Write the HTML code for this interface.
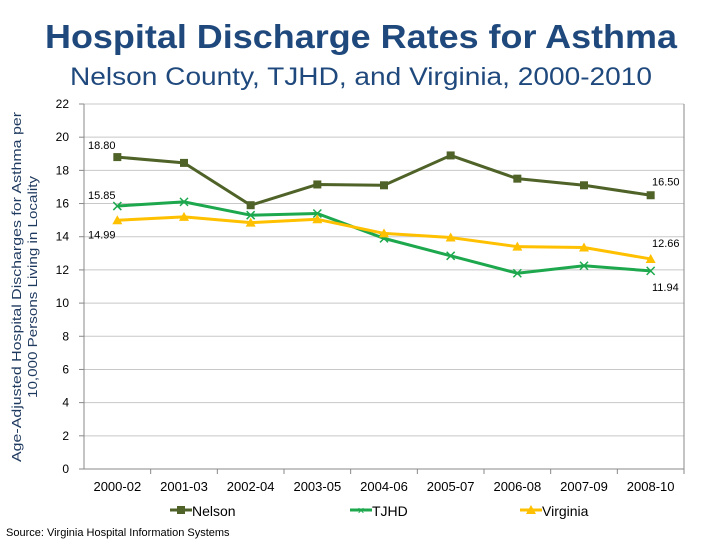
<!DOCTYPE html>
<html><head><meta charset="utf-8"><style>
body{margin:0;background:#fff;}
svg{display:block;font-family:"Liberation Sans",Arial,sans-serif;}
</style></head><body>
<svg width="720" height="540" viewBox="0 0 720 540">
<text x="361" y="48" text-anchor="middle" font-size="33" font-weight="bold" fill="#1f497d" textLength="632" lengthAdjust="spacingAndGlyphs">Hospital Discharge Rates for Asthma</text>
<text x="361" y="85" text-anchor="middle" font-size="25" fill="#1f497d" textLength="582" lengthAdjust="spacingAndGlyphs">Nelson County, TJHD, and Virginia, 2000-2010</text>
<text transform="translate(21,287) rotate(-90)" text-anchor="middle" font-size="13" fill="#1f3a5f" textLength="350" lengthAdjust="spacingAndGlyphs">Age-Adjusted Hospital Discharges for Asthma per</text>
<text transform="translate(37,287) rotate(-90)" text-anchor="middle" font-size="13" fill="#1f3a5f" textLength="222" lengthAdjust="spacingAndGlyphs">10,000 Persons Living in Locality</text>
<g id="grid"></g><g id="axes"></g><g id="series"></g><g id="labels"></g>
<g>
<line x1="170" y1="510" x2="192" y2="510" stroke="#4f6228" stroke-width="3"/><rect x="177" y="506" width="8" height="8" fill="#4f6228"/>
<text x="192" y="516" font-size="14" fill="#000">Nelson</text>
<line x1="350" y1="510" x2="372" y2="510" stroke="#1ea84e" stroke-width="3"/><text x="361" y="514.5" text-anchor="middle" font-size="12" fill="#1ea84e">×</text>
<text x="372" y="516" font-size="14" fill="#000">TJHD</text>
<line x1="520" y1="510" x2="542" y2="510" stroke="#ffc000" stroke-width="3"/><polygon points="531,505 536,514 526,514" fill="#ffc000"/>
<text x="542" y="516" font-size="14" fill="#000">Virginia</text>
</g>
<text x="6" y="536" font-size="11" fill="#000">Source: Virginia Hospital Information Systems</text>
</svg>
<script>
const categories=["2000-02","2001-03","2002-04","2003-05","2004-06","2005-07","2006-08","2007-09","2008-10"];
const nelson=[18.80,18.45,15.9,17.15,17.1,18.9,17.5,17.1,16.50];
const tjhd=[15.85,16.1,15.3,15.4,13.9,12.85,11.8,12.25,11.94];
const virginia=[14.99,15.2,14.85,15.05,14.2,13.95,13.4,13.35,12.66];
const yTicks=[0,2,4,6,8,10,12,14,16,18,20,22];
const L=84,R=684,T=104,B=469,yMax=22;
const ns="http://www.w3.org/2000/svg";
const step=(R-L)/categories.length;
const xs=i=>L+step*(i+0.5);
const ys=v=>B-(v/yMax)*(B-T);
function mk(tag,attrs,parent){const e=document.createElementNS(ns,tag);for(const k in attrs)e.setAttribute(k,attrs[k]);document.getElementById(parent).appendChild(e);return e;}
yTicks.forEach(t=>{
 if(t>0){const g=mk('line',{x1:L,x2:R,y1:ys(t),y2:ys(t),stroke:'#c8c8c8','stroke-width':1},'grid');
 
 }
 mk('line',{x1:L-5,x2:L,y1:ys(t),y2:ys(t),stroke:'#888'},'axes');
 const tx=mk('text',{x:L-15,y:ys(t)+4,'text-anchor':'end','font-size':12,fill:'#000'},'axes');tx.textContent=t;
 
 
});
mk('line',{x1:L,x2:L,y1:T,y2:B,stroke:'#888'},'axes');
mk('line',{x1:R,x2:R,y1:T,y2:B,stroke:'#888'},'axes');
mk('line',{x1:L,x2:R,y1:B,y2:B,stroke:'#888'},'axes');
categories.forEach((c,i)=>{
 mk('line',{x1:L+step*(i+1),x2:L+step*(i+1),y1:B,y2:B+5,stroke:'#888'},'axes');
 const tx=mk('text',{x:xs(i),y:B+22,'text-anchor':'middle','font-size':13,fill:'#000'},'axes');tx.textContent=c;
 
 
});
function series(data,color,marker,name){
 const pl=mk('polyline',{points:data.map((v,i)=>xs(i)+','+ys(v)).join(' '),fill:'none',stroke:color,'stroke-width':3,'stroke-linejoin':'round'},'series');
 
 
 data.forEach((v,i)=>{const x=xs(i),y=ys(v);let m;
  if(marker==='sq')m=mk('rect',{x:x-4,y:y-4,width:8,height:8,fill:color},'series');
  else if(marker==='tri')m=mk('polygon',{points:`${x},${y-5} ${x+5},${y+4} ${x-5},${y+4}`,fill:color},'series');
  else m=mk('path',{d:`M${x-4},${y-4}L${x+4},${y+4}M${x-4},${y+4}L${x+4},${y-4}`,stroke:color,'stroke-width':1.5},'series');
  
  });
}
series(nelson,'#4f6228','sq','nelson');
series(tjhd,'#1ea84e','x','tjhd');
series(virginia,'#ffc000','tri','virginia');
function lab(txt,x,y){const t=mk('text',{x:x,y:y,'font-size':11,fill:'#000'},'labels');t.textContent=txt;
 
 }
lab(nelson[0].toFixed(2),88,ys(nelson[0])-8);
lab(tjhd[0].toFixed(2),88,ys(tjhd[0])-7);
lab(virginia[0].toFixed(2),88,ys(virginia[0])+18);
lab(nelson[8].toFixed(2),652,ys(nelson[8])-10);
lab(virginia[8].toFixed(2),652,ys(virginia[8])-12);
lab(tjhd[8].toFixed(2),652,ys(tjhd[8])+20);
</script>
</body></html>
